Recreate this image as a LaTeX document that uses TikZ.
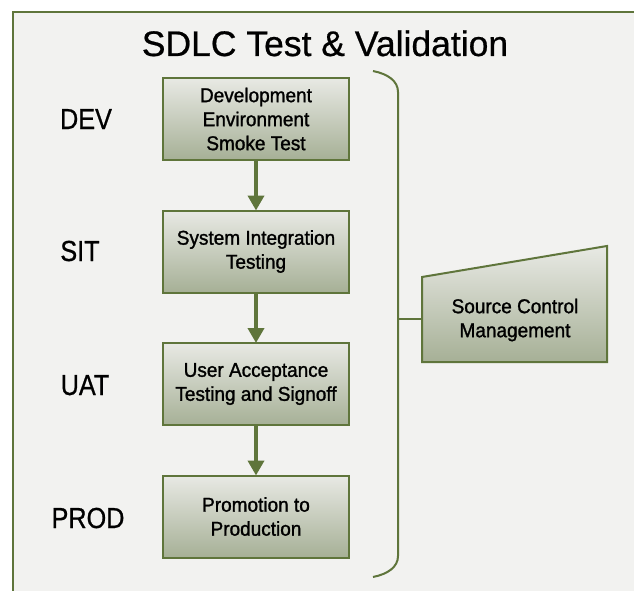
\documentclass[tikz,border=0pt]{standalone}
\usepackage{fontspec}
\setmainfont{Liberation Sans}[FakeBold=0.6]
\newfontfamily\condfont{Liberation Sans}[FakeStretch=0.87,FakeBold=0.7]
\newfontfamily\boxfont{Liberation Sans}[FakeStretch=0.95,FakeBold=1.3]
\usetikzlibrary{arrows.meta}
\definecolor{frameg}{RGB}{95,117,59}
\definecolor{bgc}{RGB}{242,242,240}
\definecolor{topc}{RGB}{232,233,228}
\definecolor{botc}{RGB}{166,176,150}
\tikzset{
  stagebox/.style={draw=frameg, line width=2pt, top color=topc, bottom color=botc,
    minimum width=186pt, minimum height=82pt, inner sep=0pt, align=center,
    font=\boxfont\fontsize{20}{24}\selectfont},
  stagelabel/.style={font=\condfont\fontsize{29}{32}\selectfont, inner sep=0pt, anchor=base},
  flow/.style={draw=frameg, line width=4pt, -{Triangle[width=16pt,length=15pt]}, shorten >=-1pt},
  bracel/.style={draw=frameg, line width=2pt},
}
\begin{document}
\begin{tikzpicture}[x=1pt,y=-1pt]
\useasboundingbox (0,0) rectangle (634,591);
\fill[white] (0,0) rectangle (634,591);
\fill[bgc] (12.5,12) rectangle (634,591);
\draw[frameg, line width=2pt] (12.5,591) -- (12.5,12) -- (634,12);
\node[font=\fontsize{35.5}{40}\selectfont, inner sep=0pt, anchor=base] (title) at (325,56) {SDLC Test \& Validation};
\node[stagebox] (dev) at (256,119) {Development\\Environment\\Smoke Test};
\node[stagebox] (sit) at (256,251.5) {System Integration\\Testing};
\node[stagebox] (uat) at (256,384) {User Acceptance\\Testing and Signoff};
\node[stagebox] (prod) at (256,516.5) {Promotion to\\Production};
\node[stagelabel] (ldev) at (86,129) {DEV};
\node[stagelabel] (lsit) at (80,261) {SIT};
\node[stagelabel] (luat) at (85,395) {UAT};
\node[stagelabel] (lprod) at (88,528) {PROD};
\draw[flow] (dev.south) -- (sit.north);
\draw[flow] (sit.south) -- (uat.north);
\draw[flow] (uat.south) -- (prod.north);
\coordinate (btop) at (373,71);
\coordinate (bbot) at (373,577);
\coordinate (bmid) at (398,319);
\coordinate (trapL) at (422,319);
\draw[bracel] (btop) .. controls (388,74) and (398,81) .. (398,92) -- (398,556) .. controls (398,567) and (388,574) .. (bbot);
\draw[bracel] (bmid) -- (trapL);
\shade[draw=frameg, line width=2pt, top color=topc, bottom color=botc] (422,277) -- (607,246) -- (607,362) -- (422,362) -- cycle;
\node[font=\boxfont\fontsize{20}{24}\selectfont, align=center, inner sep=0pt] (scm) at (515,320) {Source Control\\Management};
\end{tikzpicture}
\end{document}
